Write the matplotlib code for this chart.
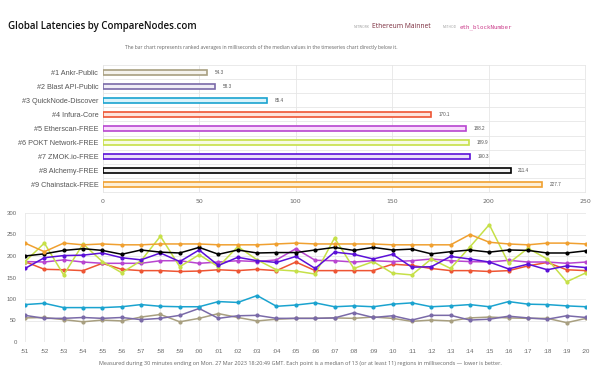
import matplotlib
matplotlib.use("Agg")
from matplotlib import pyplot as plt

# bar chart data (ranked averages)
providers = ["#1 Ankr-Public", "#2 Blast API-Public", "#3 QuickNode-Discover",
             "#4 Infura-Core", "#5 Etherscan-FREE", "#6 POKT Network-FREE",
             "#7 ZMOK.io-FREE", "#8 Alchemy-FREE", "#9 Chainstack-FREE"]
averages = [54.3, 58.3, 85.4, 170.1, 188.2, 189.9, 190.3, 211.4, 227.7]
edge_colors = ["#a89f80", "#7a6aa8", "#1aa3cf", "#ee5533", "#b845d0",
               "#c6e048", "#5b10d8", "#000000", "#f0a030"]
fill_colors = ["#f4f2ec", "#efedf6", "#d9f3fb", "#fde4dd", "#f9dbfd",
               "#f6fbe3", "#e8def9", "#f3f3f3", "#fdefd7"]

# timeseries (median latency per minute)
minutes = [":51", ":52", ":53", ":54", ":55", ":56", ":57", ":58", ":59", ":00",
           ":01", ":02", ":03", ":04", ":05", ":06", ":07", ":08", ":09", ":10",
           ":11", ":12", ":13", ":14", ":15", ":16", ":17", ":18", ":19", ":20"]
ankr = [56, 57, 52, 47, 51, 49, 58, 64, 47, 55, 66, 57, 49, 53, 55,
        55, 56, 55, 58, 55, 48, 51, 49, 56, 58, 56, 55, 55, 45, 55]
blast = [62, 55, 55, 57, 55, 57, 52, 55, 62, 78, 55, 61, 62, 55, 55,
         55, 56, 68, 57, 61, 51, 62, 62, 51, 53, 60, 56, 53, 61, 57]
quicknode = [87, 90, 80, 80, 80, 82, 87, 83, 82, 82, 94, 92, 108, 83, 86,
             91, 82, 84, 82, 88, 91, 82, 84, 87, 82, 94, 88, 87, 84, 82]
infura = [187, 169, 168, 166, 183, 169, 166, 166, 164, 165, 168, 166, 169, 166, 186,
          166, 166, 166, 166, 181, 178, 171, 166, 166, 164, 166, 177, 185, 168, 166]
etherscan = [187, 186, 191, 186, 183, 183, 183, 189, 189, 183, 186, 189, 187, 191, 217,
             190, 189, 186, 189, 187, 189, 193, 189, 187, 186, 190, 186, 186, 183, 186]
pokt = [187, 230, 156, 228, 187, 161, 189, 246, 175, 203, 175, 222, 191, 168, 165,
        158, 242, 171, 187, 160, 156, 193, 171, 221, 273, 183, 218, 193, 140, 161]
zmok = [171, 196, 201, 202, 207, 196, 191, 207, 187, 214, 178, 197, 189, 185, 199,
        171, 209, 204, 193, 204, 174, 175, 199, 193, 186, 170, 181, 168, 177, 173]
alchemy = [200, 205, 213, 217, 213, 204, 214, 209, 207, 220, 204, 214, 207, 208, 208,
           214, 220, 213, 220, 214, 216, 205, 210, 214, 209, 214, 213, 207, 207, 212]
chainstack = [230, 210, 230, 226, 228, 226, 226, 228, 228, 228, 226, 226, 226, 228, 230,
              228, 228, 228, 228, 226, 226, 226, 226, 250, 232, 228, 226, 230, 230, 228]

series = [ankr, blast, quicknode, infura, etherscan, pokt, zmok, alchemy, chainstack]

W, H = 600, 377
fig = plt.figure(figsize=(W / 100, H / 100), dpi=100)
fig.patch.set_facecolor("white")

def box(x0, y0, x1, y1):
    # pixel box (top-left origin) -> figure fraction
    return [x0 / W, 1 - y1 / H, (x1 - x0) / W, (y1 - y0) / H]

label_font = ["Liberation Sans", "DejaVu Sans"]
head_font = ["Open Sans", "DejaVu Sans"]

# header
fig.text(8 / W, 1 - 27 / H, "Global Latencies by CompareNodes.com", fontsize=7.0,
         fontweight="semibold", family=head_font, color="#111111", va="center")
fig.text(369 / W, 1 - 27 / H, "NETWORK", fontsize=2.3, family=head_font,
         color="#999999", va="center", ha="right")
fig.text(372 / W, 1 - 27 / H, "Ethereum Mainnet", fontsize=4.9, family=head_font,
         color="#7a2b3c", va="center")
fig.text(457 / W, 1 - 27 / H, "METHOD", fontsize=2.3, family=head_font,
         color="#999999", va="center", ha="right")
fig.text(460 / W, 1 - 27 / H, "eth_blockNumber", fontsize=4.2, family="DejaVu Sans Mono",
         color="#cc3e8c", va="center")
fig.text(261 / W, 1 - 47 / H,
         "The bar chart represents ranked averages in milliseconds of the median values in the timeseries chart directly below it.",
         fontsize=3.65, family=head_font, color="#666666", ha="center", va="center")

# bar chart
ax1 = fig.add_axes(box(102.5, 65, 585, 192))
pos = list(range(len(providers)))
ax1.barh(pos, averages, height=0.36, color=fill_colors, edgecolor=edge_colors,
         linewidth=1.2, zorder=3)
for p, v in zip(pos, averages):
    ax1.text(v + 4, p, "{:.1f}".format(v), fontsize=3.3, family=label_font,
             color="#555555", va="center")
ax1.set_xlim(0, 250)
ax1.set_ylim(len(providers) - 0.5, -0.5)
ax1.set_yticks(pos)
ax1.set_yticklabels(providers, fontsize=5.2, family=label_font, color="#555555")
ax1.set_xticks([0, 50, 100, 150, 200, 250])
ax1.set_yticks([p + 0.5 for p in pos[:-1]], minor=True)
ax1.tick_params(axis="x", labelsize=4.5, colors="#666666", length=0, pad=5)
ax1.tick_params(axis="y", which="both", length=0, pad=3)
ax1.grid(axis="x", color="#e6e6e6", linewidth=0.6, zorder=0)
ax1.grid(axis="y", which="minor", color="#e6e6e6", linewidth=0.6, zorder=0)
for s in ax1.spines.values():
    s.set_color("#e6e6e6")
    s.set_linewidth(0.6)

# timeseries chart
ax2 = fig.add_axes(box(25, 213, 586, 342))
x = list(range(len(minutes)))
for vals, c in zip(series, edge_colors):
    ax2.plot(x, vals, color=c, linewidth=1.1, marker="o", markersize=2.0, zorder=3)
ax2.set_xlim(0, len(minutes) - 1)
ax2.set_ylim(0, 300)
ax2.set_xticks(x)
ax2.set_xticklabels(minutes, fontsize=4.3, family=label_font, color="#666666")
ax2.set_yticks([0, 50, 100, 150, 200, 250, 300])
ax2.tick_params(axis="y", labelsize=4.3, colors="#666666", length=0, pad=6)
ax2.tick_params(axis="x", length=0, pad=5)
for lbl in ax2.get_yticklabels():
    lbl.set_family(label_font)
ax2.grid(color="#e8e8e8", linewidth=0.6, zorder=0)
for s in ax2.spines.values():
    s.set_visible(False)

fig.text(300 / W, 1 - 363 / H,
         "Measured during 30 minutes ending on Mon. 27 Mar 2023 18:20:49 GMT. Each point is a median of 13 (or at least 11) regions in milliseconds \u2014 lower is better.",
         fontsize=4.0, family=head_font, color="#666666", ha="center", va="center")

fig.savefig("out.png", dpi=100, facecolor="white")
